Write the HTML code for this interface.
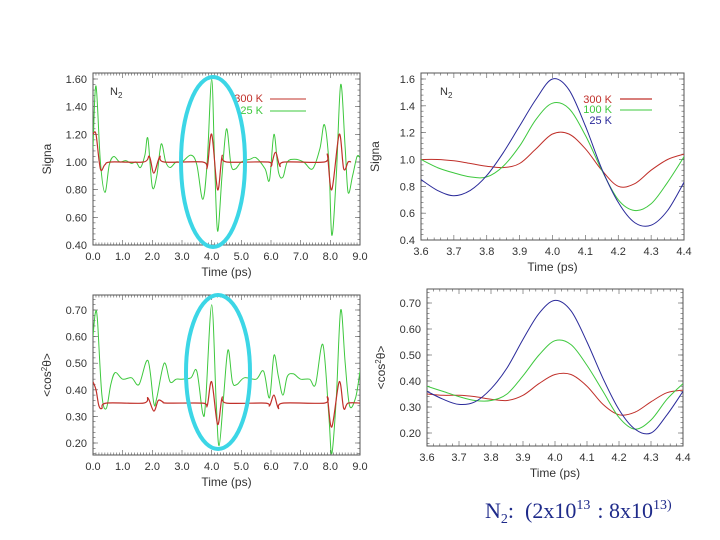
<!DOCTYPE html>
<html><head><meta charset="utf-8"><style>
body{margin:0;background:#fff;}
svg{display:block;font-family:"Liberation Sans",sans-serif;}
.tk{font-size:11px;fill:#333;}
.lab{font-size:12px;fill:#333;}
</style></head><body>
<svg id="s" width="720" height="540" viewBox="0 0 720 540"></svg>
<script>
// Top-left: Signal vs time (full)
const tlGreenT=[0,0.1,0.25,0.4,0.55,0.7,0.9,1.1,1.3,1.45,1.6,1.75,1.85,2.0,2.15,2.3,2.45,2.6,2.8,3.0,3.3,3.5,3.7,3.85,4.0,4.1,4.2,4.35,4.5,4.65,4.8,5.0,5.3,5.5,5.8,5.95,6.1,6.25,6.4,6.55,6.8,7.1,7.4,7.65,7.8,7.95,8.05,8.2,8.35,8.5,8.6,8.75,8.9,9.0];
const tlGreenV=[1.1,1.55,1.0,0.78,0.98,1.04,1.0,1.01,0.99,1.0,0.96,1.05,1.17,0.82,0.9,1.13,1.0,0.96,1.0,1.0,1.05,0.98,0.73,1.0,1.6,1.0,0.5,0.9,1.24,0.98,0.95,1.0,1.02,1.03,0.95,0.87,1.2,0.93,0.89,1.0,1.02,1.0,0.95,1.1,1.27,1.0,0.47,0.9,1.56,1.1,0.78,0.9,1.04,1.03];
const tlRedT=[0,0.1,0.25,0.4,0.6,1.7,1.9,2.05,2.25,2.4,3.7,3.85,4.0,4.2,4.35,4.5,5.9,6.0,6.15,6.3,6.45,7.8,7.9,8.05,8.3,8.45,8.6,8.7];
const tlRedV=[1.2,1.2,0.95,0.98,1.0,1.0,1.04,0.92,1.04,1.0,1.0,0.96,1.2,0.8,1.04,1.0,1.0,0.97,1.07,0.97,1.0,1.0,1.05,0.8,1.2,0.95,1.0,1.0];
// Bottom-left: <cos^2> vs time (full)
const blGreenT=[0,0.08,0.15,0.3,0.45,0.6,0.75,1.0,1.3,1.55,1.85,2.05,2.15,2.4,2.6,2.8,3.0,3.3,3.5,3.7,3.8,4.0,4.15,4.25,4.4,4.55,4.7,4.85,5.1,5.5,5.75,5.95,6.1,6.25,6.4,6.55,6.75,7.0,7.3,7.5,7.75,7.95,8.05,8.2,8.35,8.5,8.65,8.85,9.0];
const blGreenV=[0.6,0.69,0.66,0.38,0.33,0.42,0.465,0.44,0.445,0.42,0.51,0.35,0.37,0.5,0.43,0.44,0.44,0.445,0.47,0.31,0.36,0.72,0.36,0.19,0.37,0.55,0.43,0.42,0.445,0.44,0.47,0.37,0.53,0.45,0.38,0.45,0.46,0.44,0.44,0.42,0.57,0.3,0.16,0.37,0.7,0.5,0.34,0.37,0.47];
const blRedT=[0,0.1,0.2,0.3,0.45,1.7,1.85,2.05,2.2,2.35,2.5,3.7,3.85,4.0,4.2,4.35,4.5,5.8,5.95,6.1,6.25,6.4,7.8,7.9,8.05,8.3,8.45,8.6,9.0];
const blRedV=[0.43,0.4,0.34,0.33,0.35,0.35,0.37,0.32,0.36,0.355,0.35,0.35,0.34,0.43,0.27,0.37,0.35,0.35,0.34,0.38,0.33,0.35,0.35,0.37,0.26,0.43,0.33,0.35,0.35];
// Zoomed panels (3.6..4.4 step 0.05)
const zT=[3.6,3.65,3.7,3.75,3.8,3.85,3.9,3.95,4.0,4.05,4.1,4.15,4.2,4.25,4.3,4.35,4.4];
const trBlue=[0.85,0.77,0.73,0.77,0.88,1.05,1.25,1.45,1.6,1.52,1.25,0.93,0.68,0.53,0.51,0.62,0.83];
const trGreen=[1.0,0.94,0.9,0.87,0.87,0.95,1.1,1.3,1.42,1.38,1.18,0.92,0.7,0.62,0.67,0.83,1.02];
const trRed=[1.0,1.0,0.99,0.97,0.95,0.94,0.97,1.08,1.19,1.19,1.08,0.92,0.8,0.82,0.92,1.0,1.04];
const brBlue=[0.36,0.33,0.31,0.32,0.37,0.45,0.56,0.66,0.71,0.67,0.55,0.41,0.29,0.215,0.2,0.27,0.36];
const brGreen=[0.38,0.36,0.34,0.325,0.325,0.35,0.42,0.5,0.555,0.54,0.46,0.36,0.26,0.215,0.25,0.33,0.39];
const brRed=[0.35,0.345,0.345,0.34,0.33,0.325,0.345,0.39,0.425,0.425,0.38,0.31,0.27,0.28,0.32,0.355,0.365];
const fullTicks=["0.0","1.0","2.0","3.0","4.0","5.0","6.0","7.0","8.0","9.0"];
const zoomTicks=["3.6","3.7","3.8","3.9","4.0","4.1","4.2","4.3","4.4"];

const NS="http://www.w3.org/2000/svg";
const svg=document.getElementById('s');
function mk(tag,attrs,parent){const e=document.createElementNS(NS,tag);for(const k in attrs)e.setAttribute(k,attrs[k]);(parent||svg).appendChild(e);return e;}
function spline(pts){let d='M'+pts[0][0].toFixed(1)+','+pts[0][1].toFixed(1);
 for(let i=0;i<pts.length-1;i++){const p0=pts[Math.max(0,i-1)],p1=pts[i],p2=pts[i+1],p3=pts[Math.min(pts.length-1,i+2)];
  const c1=[p1[0]+(p2[0]-p0[0])/6,p1[1]+(p2[1]-p0[1])/6],c2=[p2[0]-(p3[0]-p1[0])/6,p2[1]-(p3[1]-p1[1])/6];
  d+=' C'+c1.map(v=>v.toFixed(1))+' '+c2.map(v=>v.toFixed(1))+' '+p2[0].toFixed(1)+','+p2[1].toFixed(1);}
 return d;}
function panel(o){
 const g=mk('g',{});
 
 
 const sx=v=>o.L+(v-o.x0)/(o.x1-o.x0)*(o.R-o.L);
 const sy=v=>o.yA+(v-o.vA)/(o.vB-o.vA)*(o.yB-o.yA);
 const box=mk('rect',{x:o.L,y:o.T,width:o.R-o.L,height:o.B-o.T,fill:'none',stroke:'#555','stroke-width':1},g);
 
 const nx=Math.round((o.x1-o.x0)/o.xm);
 for(let i=0;i<=nx;i++){const x=o.L+i*(o.R-o.L)/nx;const len=(i%o.xmaj==0)?5:2.5;
  mk('line',{x1:x,y1:o.B,x2:x,y2:o.B-len,stroke:'#555','stroke-width':0.6},g);
  mk('line',{x1:x,y1:o.T,x2:x,y2:o.T+len,stroke:'#555','stroke-width':0.6},g);}
 o.xlabels.forEach((s,i)=>{const t=mk('text',{x:o.L+i*(o.R-o.L)/(o.xlabels.length-1),y:o.B+15,'text-anchor':'middle',class:'tk'},g);t.textContent=s;
  });
 for(let v=o.yTickMin;v<=o.yTickMax+1e-9;v+=o.yStep/5){const y=sy(v);if(y<o.T||y>o.B)continue;
  mk('line',{x1:o.L,y1:y,x2:o.L+2.5,y2:y,stroke:'#555','stroke-width':0.6},g);
  mk('line',{x1:o.R,y1:y,x2:o.R-2.5,y2:y,stroke:'#555','stroke-width':0.6},g);}
 o.ylabels.forEach(s=>{const v=parseFloat(s);const y=sy(v);
  mk('line',{x1:o.L,y1:y,x2:o.L+5,y2:y,stroke:'#555','stroke-width':0.6},g);
  mk('line',{x1:o.R,y1:y,x2:o.R-5,y2:y,stroke:'#555','stroke-width':0.6},g);
  const t=mk('text',{x:o.L-6,y:y+4,'text-anchor':'end',class:'tk'},g);t.textContent=s;
  });
 const xl=mk('text',{x:(o.L+o.R)/2,y:o.B+31,'text-anchor':'middle',class:'lab'},g);xl.textContent='Time (ps)';
 
 const yl=mk('text',{x:0,y:0,'text-anchor':'middle',class:'lab',transform:`translate(${o.L-42},${(o.T+o.B)/2}) rotate(-90)`},g);
 
 if(o.cos){yl.innerHTML='&lt;cos<tspan dy="-4" font-size="8">2</tspan><tspan dy="4">θ&gt;</tspan>';}else yl.textContent='Signa';
 const clip=mk('clipPath',{id:'c'+o.name},g);mk('rect',{x:o.L,y:o.T,width:o.R-o.L,height:o.B-o.T},clip);
 o.series.forEach(s=>{const pts=s.t.map((t,i)=>[sx(t),sy(s.v[i])]);
  const p=mk('path',{d:spline(pts),fill:'none',stroke:s.c,'stroke-width':s.w||1,'clip-path':`url(#c${o.name})`},g);
  });
 return g;}

panel({name:'panel-signal-full',L:93,R:360,T:73,B:245,x0:0,x1:9,xm:0.1,xmaj:10,yA:79,vA:1.6,yB:245,vB:0.4,yStep:0.2,yTickMin:0.4,yTickMax:1.6,
 xlabels:fullTicks,ylabels:["0.40","0.60","0.80","1.00","1.20","1.40","1.60"],
 series:[{t:tlGreenT,v:tlGreenV,c:'#3ec83e',n:'series-25k'},{t:tlRedT,v:tlRedV,c:'#c0302a',n:'series-300k',w:1.2}]});
panel({name:'panel-signal-zoom',L:421,R:684,T:73,B:240,x0:3.6,x1:4.4,xm:0.02,xmaj:5,yA:79,vA:1.6,yB:240,vB:0.4,yStep:0.2,yTickMin:0.4,yTickMax:1.6,
 xlabels:zoomTicks,ylabels:["0.4","0.6","0.8","1.0","1.2","1.4","1.6"],
 series:[{t:zT,v:trRed,c:'#c0302a',n:'series-300k'},{t:zT,v:trGreen,c:'#3ec83e',n:'series-100k'},{t:zT,v:trBlue,c:'#2a2a9a',n:'series-25k'}]});
panel({name:'panel-cos-full',L:93,R:360,T:295,B:455,x0:0,x1:9,xm:0.1,xmaj:10,yA:310,vA:0.7,yB:443,vB:0.2,yStep:0.1,yTickMin:0.1,yTickMax:0.8,cos:1,
 xlabels:fullTicks,ylabels:["0.20","0.30","0.40","0.50","0.60","0.70"],
 series:[{t:blGreenT,v:blGreenV,c:'#3ec83e',n:'series-25k'},{t:blRedT,v:blRedV,c:'#c0302a',n:'series-300k',w:1.2}]});
panel({name:'panel-cos-zoom',L:427,R:683,T:289,B:446,x0:3.6,x1:4.4,xm:0.02,xmaj:5,yA:303,vA:0.7,yB:433,vB:0.2,yStep:0.1,yTickMin:0.1,yTickMax:0.8,cos:1,
 xlabels:zoomTicks,ylabels:["0.20","0.30","0.40","0.50","0.60","0.70"],
 series:[{t:zT,v:brRed,c:'#c0302a',n:'series-300k'},{t:zT,v:brGreen,c:'#3ec83e',n:'series-100k'},{t:zT,v:brBlue,c:'#2a2a9a',n:'series-25k'}]});
</script>
<svg width="720" height="540" style="position:absolute;left:0;top:0">
 <text x="110" y="95" font-size="11" fill="#333" font-family="Liberation Sans,sans-serif">N<tspan dy="3" font-size="8">2</tspan></text>
 <text x="440" y="95" font-size="11" fill="#333" font-family="Liberation Sans,sans-serif">N<tspan dy="3" font-size="8">2</tspan></text>
 <g font-family="Liberation Sans,sans-serif" font-size="11">
  <text x="263" y="102" text-anchor="end" fill="#c0302a">300 K</text>
  <line x1="270" y1="99" x2="306" y2="99" stroke="#c0302a"/>
  <text x="263" y="114" text-anchor="end" fill="#3ec83e">25 K</text>
  <line x1="270" y1="111" x2="306" y2="111" stroke="#3ec83e"/>
 </g>
 <g font-family="Liberation Sans,sans-serif" font-size="11">
  <text x="612" y="103" text-anchor="end" fill="#c0302a">300 K</text>
  <line x1="620" y1="99" x2="652" y2="99" stroke="#c0302a" stroke-width="1.3"/>
  <text x="612" y="113" text-anchor="end" fill="#3ec83e">100 K</text>
  <line x1="620" y1="110" x2="652" y2="110" stroke="#3ec83e"/>
  <text x="612" y="124" text-anchor="end" fill="#2a2a9a">25 K</text>
 </g>
 <ellipse cx="213" cy="162" rx="32" ry="85" fill="none" stroke="#3cd6e6" stroke-width="4"/>
 <ellipse cx="218" cy="372" rx="32" ry="77" fill="none" stroke="#3cd6e6" stroke-width="4"/>
 <text x="485" y="518" font-family="Liberation Serif,serif" font-size="22" fill="#1e2a8a">N<tspan dy="5" font-size="14">2</tspan><tspan dy="-5" xml:space="preserve">:  (2x10</tspan><tspan dy="-9" font-size="14" xml:space="preserve">13  </tspan><tspan dy="9">: 8x10</tspan><tspan dy="-9" font-size="14">13)</tspan></text>
</svg>
</body></html>
